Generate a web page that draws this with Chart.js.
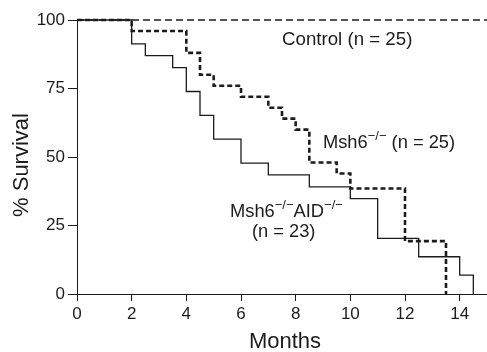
<!DOCTYPE html>
<html>
<head>
<meta charset="utf-8">
<script src="https://cdn.jsdelivr.net/npm/chart.js@4/dist/chart.umd.min.js"></script>
<style>
    html, body { margin: 0; padding: 0; background: #fff; }
    #wrap { width: 487px; height: 352px; position: relative; }
</style>
</head>
<body>
<div id="wrap"><canvas id="chart"></canvas></div>
<script>
// survival curves (months, % survival)
const msh6Months = [0, 2, 4, 4.5, 5, 6, 7, 7.5, 8, 8.5, 9.5, 10, 12, 13.5];
const msh6Survival = [100, 96, 88, 80, 76, 72, 68, 64, 60, 48, 44, 38.5, 19.3, 0];

const dkoMonths = [0, 2, 2.5, 3.5, 4, 4.5, 5, 6, 7, 8.5, 10, 11, 12.5, 14, 14.5];
const dkoSurvival = [100, 91.3, 87, 82.6, 73.9, 65.2, 56.5, 47.8, 43.5, 39.1, 34.8, 20.3, 13.6, 6.9, 0];

const controlMonths = [0, 15];
const controlSurvival = [100, 100];

const xTicks = [0, 2, 4, 6, 8, 10, 12, 14];
const yTicks = [0, 25, 50, 75, 100];

const FONT = '"Liberation Sans", Arial, sans-serif';
const INK = '#1c1c1c';

function toPoints(xs, ys) {
    return xs.map((x, i) => ({ x, y: ys[i] }));
}

// curve labels, anchored in data units; sup parts are superscripts
const curveLabels = [
    { x: 7.5, y: 90.9, size: 18.7, parts: [['Control (n = 25)', false]] },
    { x: 9.0, y: 53.2, size: 18.3, parts: [['Msh6', false], ['\u2212/\u2212', true], [' (n = 25)', false]] },
    { x: 5.6, y: 28.0, size: 18.3, parts: [['Msh6', false], ['\u2212/\u2212', true], ['AID', false], ['\u2212/\u2212', true]] },
    { x: 6.4, y: 20.8, size: 18.3, parts: [['(n = 23)', false]] }
];

const labelPlugin = {
    id: 'labels',
    afterDraw(chart) {
        const ctx = chart.ctx;
        const xs = chart.scales.x;
        const ys = chart.scales.y;
        ctx.save();
        ctx.fillStyle = INK;
        ctx.textBaseline = 'alphabetic';
        ctx.textAlign = 'left';
        curveLabels.forEach((lb) => {
            let px = xs.getPixelForValue(lb.x);
            const py = ys.getPixelForValue(lb.y);
            lb.parts.forEach(([txt, sup]) => {
                ctx.font = (sup ? '13px ' : lb.size + 'px ') + FONT;
                ctx.fillText(txt, px, sup ? py - 8.5 : py);
                px += ctx.measureText(txt).width;
            });
        });

        // axis titles
        ctx.font = '22px ' + FONT;
        ctx.textAlign = 'center';
        ctx.textBaseline = 'middle';
        ctx.fillText('Months', (chart.chartArea.left + chart.chartArea.right) / 2 + 3, 342);
        ctx.translate(22, 165);
        ctx.rotate(-Math.PI / 2);
        ctx.fillText('% Survival', 0, 0);
        ctx.restore();
    }
};

new Chart(document.getElementById('chart'), {
    type: 'line',
    data: {
        datasets: [
            {
                label: 'Msh6-/- (n = 25)',
                data: toPoints(msh6Months, msh6Survival),
                borderColor: INK,
                borderWidth: 2.6,
                borderDash: [5, 3],
                stepped: true,
                pointRadius: 0,
                fill: false,
                clip: 4
            },
            {
                label: 'Msh6-/-AID-/- (n = 23)',
                data: toPoints(dkoMonths, dkoSurvival),
                borderColor: INK,
                borderWidth: 1.3,
                stepped: true,
                pointRadius: 0,
                fill: false,
                clip: 4
            },
            {
                label: 'Control (n = 25)',
                data: toPoints(controlMonths, controlSurvival),
                borderColor: INK,
                borderWidth: 1.6,
                borderDash: [7, 4],
                pointRadius: 0,
                fill: false,
                clip: 4
            }
        ]
    },
    options: {
        responsive: true,
        maintainAspectRatio: false,
        animation: false,
        layout: { padding: { top: 20, right: 0, left: 0, bottom: 0 } },
        plugins: {
            legend: { display: false },
            tooltip: { enabled: false }
        },
        scales: {
            x: {
                type: 'linear',
                min: 0,
                max: 15,
                afterBuildTicks: (s) => { s.ticks = xTicks.map(v => ({ value: v })); },
                afterFit: (s) => { s.height = 58; },
                ticks: { font: { family: FONT, size: 17 }, color: INK, padding: 3, maxRotation: 0 },
                grid: { drawOnChartArea: false, drawTicks: true, tickLength: 7, color: INK, lineWidth: 1 },
                border: { display: true, color: INK, width: 1 }
            },
            y: {
                min: 0,
                max: 100,
                afterBuildTicks: (s) => { s.ticks = yTicks.map(v => ({ value: v })); },
                afterFit: (s) => { s.width = 77; },
                ticks: { font: { family: FONT, size: 17 }, color: INK, padding: 3 },
                grid: { drawOnChartArea: false, drawTicks: true, tickLength: 9, color: INK, lineWidth: 1 },
                border: { display: true, color: INK, width: 1 }
            }
        }
    },
    plugins: [labelPlugin]
});
</script>
</body>
</html>
